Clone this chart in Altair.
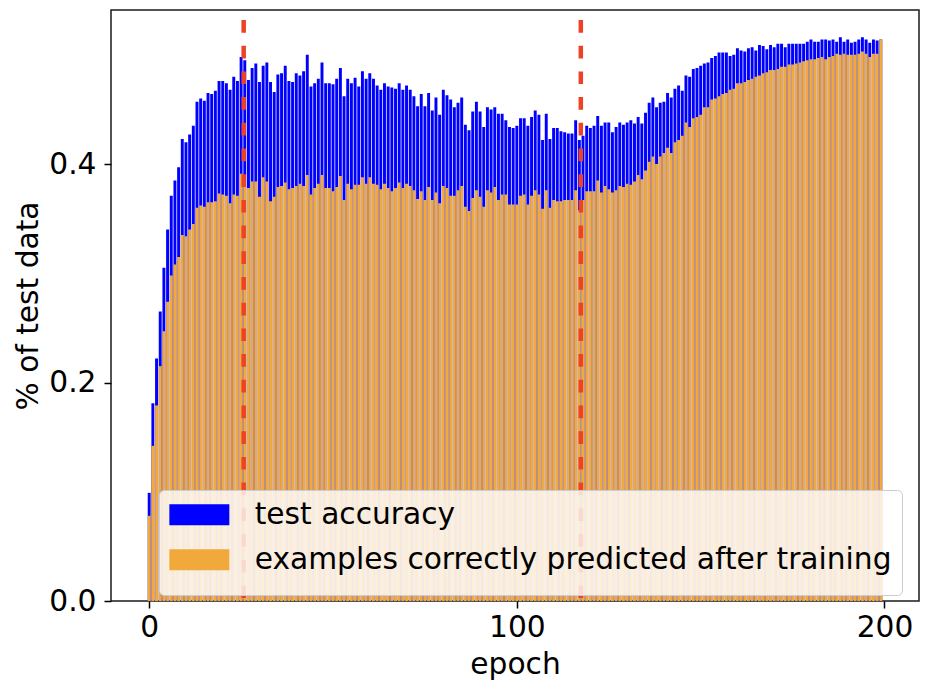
import altair as alt
import pandas as pd

# ---------------- data ----------------
epochs = list(range(200))

test_accuracy = [
    0.099, 0.181, 0.222, 0.265, 0.305, 0.340, 0.371, 0.385, 0.397, 0.423,
    0.420, 0.427, 0.435, 0.457, 0.460, 0.458, 0.465, 0.464, 0.467, 0.476,
    0.476, 0.474, 0.468, 0.480, 0.476, 0.498, 0.495, 0.477, 0.488, 0.492,
    0.475, 0.490, 0.493, 0.475, 0.466, 0.482, 0.483, 0.490, 0.476, 0.475,
    0.483, 0.481, 0.485, 0.500, 0.471, 0.474, 0.478, 0.493, 0.474, 0.474,
    0.473, 0.478, 0.488, 0.462, 0.478, 0.474, 0.479, 0.471, 0.485, 0.478,
    0.483, 0.478, 0.472, 0.468, 0.474, 0.471, 0.470, 0.469, 0.474, 0.468,
    0.472, 0.468, 0.462, 0.453, 0.464, 0.453, 0.465, 0.449, 0.461, 0.445,
    0.468, 0.463, 0.459, 0.452, 0.456, 0.461, 0.436, 0.431, 0.448, 0.457,
    0.448, 0.434, 0.452, 0.450, 0.452, 0.446, 0.446, 0.440, 0.434, 0.433,
    0.435, 0.442, 0.442, 0.435, 0.443, 0.449, 0.445, 0.422, 0.446, 0.423,
    0.433, 0.433, 0.430, 0.429, 0.428, 0.428, 0.440, 0.422, 0.426, 0.435,
    0.433, 0.435, 0.444, 0.435, 0.438, 0.438, 0.429, 0.434, 0.438, 0.436,
    0.438, 0.440, 0.437, 0.443, 0.437, 0.447, 0.456, 0.461, 0.452, 0.456,
    0.457, 0.465, 0.461, 0.469, 0.472, 0.467, 0.481, 0.480, 0.487, 0.488,
    0.490, 0.492, 0.493, 0.497, 0.499, 0.502, 0.502, 0.502, 0.499, 0.500,
    0.506, 0.504, 0.503, 0.506, 0.507, 0.504, 0.509, 0.508, 0.505, 0.509,
    0.507, 0.510, 0.510, 0.507, 0.510, 0.510, 0.510, 0.510, 0.510, 0.512,
    0.514, 0.512, 0.512, 0.514, 0.514, 0.513, 0.514, 0.512, 0.516, 0.512,
    0.514, 0.511, 0.512, 0.514, 0.516, 0.514, 0.511, 0.514, 0.513, 0.514,
]

correct_after_training = [
    0.078, 0.142, 0.179, 0.215, 0.247, 0.274, 0.298, 0.308, 0.315, 0.335,
    0.334, 0.340, 0.345, 0.360, 0.362, 0.361, 0.365, 0.365, 0.366, 0.373,
    0.372, 0.371, 0.364, 0.372, 0.371, 0.391, 0.384, 0.378, 0.384, 0.384,
    0.370, 0.388, 0.384, 0.366, 0.370, 0.379, 0.380, 0.383, 0.377, 0.378,
    0.380, 0.382, 0.380, 0.390, 0.372, 0.378, 0.382, 0.390, 0.378, 0.378,
    0.375, 0.379, 0.389, 0.367, 0.382, 0.377, 0.381, 0.381, 0.388, 0.382,
    0.388, 0.382, 0.381, 0.377, 0.382, 0.378, 0.375, 0.378, 0.383, 0.378,
    0.382, 0.380, 0.376, 0.368, 0.375, 0.367, 0.379, 0.367, 0.374, 0.364,
    0.380, 0.378, 0.371, 0.371, 0.376, 0.380, 0.361, 0.357, 0.369, 0.376,
    0.370, 0.361, 0.376, 0.374, 0.379, 0.367, 0.372, 0.372, 0.363, 0.363,
    0.363, 0.371, 0.372, 0.363, 0.371, 0.376, 0.372, 0.359, 0.376, 0.360,
    0.367, 0.366, 0.366, 0.367, 0.367, 0.367, 0.376, 0.358, 0.367, 0.375,
    0.375, 0.375, 0.385, 0.374, 0.380, 0.377, 0.374, 0.376, 0.380, 0.379,
    0.382, 0.381, 0.384, 0.390, 0.386, 0.394, 0.402, 0.407, 0.400, 0.407,
    0.410, 0.415, 0.410, 0.420, 0.422, 0.426, 0.438, 0.434, 0.442, 0.443,
    0.445, 0.452, 0.452, 0.459, 0.460, 0.462, 0.464, 0.465, 0.468, 0.469,
    0.474, 0.474, 0.475, 0.477, 0.478, 0.480, 0.481, 0.483, 0.484, 0.486,
    0.486, 0.487, 0.489, 0.489, 0.491, 0.491, 0.492, 0.493, 0.494, 0.495,
    0.496, 0.496, 0.497, 0.498, 0.496, 0.498, 0.499, 0.501, 0.500, 0.501,
    0.500, 0.500, 0.500, 0.501, 0.503, 0.501, 0.498, 0.501, 0.501, 0.514,
]

series_names = ["test accuracy", "examples correctly predicted after training"]
series_colors = ["#0000ff", "#f2a93b"]
marker_epochs = [25.7, 117.4]
x_ticks = [0, 100, 200]
y_ticks = [0.0, 0.2, 0.4]
x_domain = [-10.39, 209.39]
y_domain = [0.0, 0.541]
bar_width = 0.8

# ---------------- table ----------------
rows = []
for name, vals in zip(series_names, [test_accuracy, correct_after_training]):
    for e, v in zip(epochs, vals):
        rows.append({"series": name, "epoch": e,
                     "lo": e - bar_width / 2, "hi": e + bar_width / 2,
                     "value": v})
bars_df = pd.DataFrame(rows)
marks_df = pd.DataFrame({"epoch": marker_epochs})

FONT = "DejaVu Sans"
FS = 29.7

x_scale = alt.Scale(domain=x_domain, nice=False, zero=False)
y_scale = alt.Scale(domain=y_domain, nice=False, zero=False)

# legend swatch: wide rectangle (60x21 px at symbolSize 841) plus an
# invisible point that adds a little room below each entry
SWATCH = "M-1,-0.724H3.138V0.724H-1Z M0,1.69L0,1.69"

bars = alt.Chart(bars_df).mark_rect().encode(
    x=alt.X("lo:Q", scale=x_scale,
            axis=alt.Axis(values=x_ticks, format="d", title="epoch",
                          labelBaseline="alphabetic", labelPadding=28.7,
                          labelFlush=False, labelOverlap=False,
                          titleX=404, titleY=72, titleBaseline="alphabetic")),
    x2="hi:Q",
    y=alt.Y("value:Q", scale=y_scale,
            axis=alt.Axis(values=y_ticks, format=".1f", title="% of test data",
                          labelPadding=8, labelFlush=False, labelOverlap=False,
                          titleX=-74, titleY=295.5, titleBaseline="alphabetic")),
    y2=alt.datum(0),
    color=alt.Color(
        "series:N",
        title=None,
        scale=alt.Scale(domain=series_names, range=series_colors),
        legend=alt.Legend(
            orient="none", legendX=48, legendY=480, direction="vertical",
            fillColor="rgba(255,255,255,0.8)", strokeColor="#cccccc",
            cornerRadius=5, padding=10,
            symbolType=SWATCH, symbolSize=841,
            symbolStrokeWidth=0, symbolOpacity=1,
            labelFont=FONT, labelFontSize=FS, labelColor="#000000",
            labelLimit=1000, labelOffset=56, rowPadding=4,
        ),
    ),
)

rules = alt.Chart(marks_df).mark_rule(
    color="#ec4226", strokeWidth=4.5, strokeDash=[12.7, 13], strokeDashOffset=15.7
).encode(x=alt.X("epoch:Q", scale=x_scale))

chart = alt.layer(bars, rules).properties(
    width=808, height=591,
    autosize=alt.AutoSizeParams(type="none"),
    padding={"left": 103, "top": 2, "right": 7, "bottom": 87},
).configure_view(
    stroke="#1a1a1a", strokeWidth=1.5
).configure_axis(
    labelFont=FONT, labelFontSize=FS, labelColor="#000000",
    titleFont=FONT, titleFontSize=FS, titleFontWeight="normal", titleColor="#000000",
    tickColor="#000000", tickSize=7, tickWidth=1.5,
    domain=False, grid=False,
)

chart.save("out.html", embed_options={"renderer": "svg", "actions": False})
